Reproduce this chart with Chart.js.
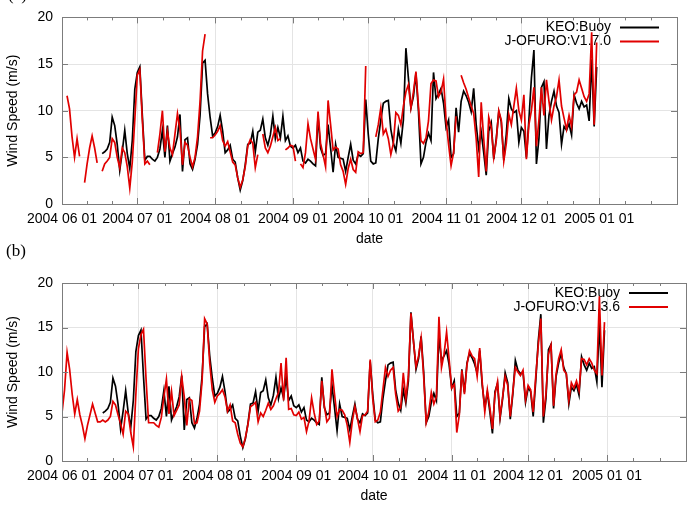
<!DOCTYPE html>
<html>
<head>
<meta charset="utf-8">
<script src="https://cdn.jsdelivr.net/npm/chart.js@4.4.1/dist/chart.umd.min.js"></script>
<style>
  html, body { margin: 0; padding: 0; background: #fff; }
  body { width: 693px; height: 507px; position: relative; overflow: hidden; }
  .panel { position: absolute; left: 0; width: 693px; }
  .tag { position: absolute; font-family: "Liberation Serif", "DejaVu Serif", serif; font-size: 17px; color: #000; }
</style>
</head>
<body>
<div class="panel" style="top:0;height:250px"><canvas id="chartA"></canvas></div>
<div class="panel" style="top:250px;height:257px"><canvas id="chartB"></canvas></div>
<div class="tag" style="left:8px;top:-15px">(a)</div>
<div class="tag" style="left:6px;top:241px">(b)</div>
<script>
// days counted from 2004-06-01
const monthStarts = [0, 30, 61, 92, 122, 153, 183, 214];
const monthLabels = ['2004 06 01', '2004 07 01', '2004 08 01', '2004 09 01',
                     '2004 10 01', '2004 11 01', '2004 12 01', '2005 01 01'];
const yTicks = [0, 5, 10, 15, 20];

// KEO buoy daily wind speed (m/s), day 0 .. 213
const buoy = [
  null, null, null, null, null, null, null, null, null, null,
  null, null, null, null, null, null, 5.4, 5.6, 5.9, 6.6,
  9.3, 8.4, 6.4, 3.6, 5.6, 7.9, 5.4, 3.8, 6.8, 12.3,
  14.1, 14.7, 9.5, 4.7, 5.1, 5.1, 4.8, 4.6, 5.0, 5.9,
  7.9, 5.0, 8.4, 4.6, 5.4, 6.1, 7.2, 9.6, 3.5, 6.9,
  7.1, 4.3, 3.7, 4.8, 6.4, 9.5, 15.1, 15.4, 11.8, 9.3,
  7.3, 7.6, 8.3, 9.5, 7.8, 5.5, 5.8, 6.3, 4.8, 4.5,
  2.8, 1.5, 2.5, 4.2, 6.4, 6.5, 7.8, 5.6, 7.7, 7.9,
  9.1, 7.1, 6.3, 7.4, 9.4, 7.0, 8.2, 7.1, 9.4, 6.8,
  7.3, 6.2, 6.0, 6.3, 5.5, 6.0, 4.6, 4.4, 4.8, 4.6,
  4.3, 4.1, 9.4, 6.0, 5.2, 5.4, 8.5, 6.0, 3.4, 6.4,
  5.0, 4.9, 4.8, 3.5, 5.0, 6.4, 4.7, 4.3, 5.3, 5.1,
  5.4, 11.2, 7.5, 4.6, 4.3, 4.4, 7.0, 9.0, 10.8, 11.0,
  11.1, 8.0, 6.5, 5.7, 8.0, 6.5, 9.0, 16.7, 13.5, 10.3,
  11.5, 14.0, 10.0, 4.3, 5.0, 6.6, 7.6, 6.8, 14.1, 11.3,
  11.8, 12.4, 10.8, 8.2, 9.0, 5.0, 5.4, 10.3, 7.7, 11.0,
  12.1, 11.6, 10.9, 9.9, 12.4, 8.5, 6.0, 7.7, 5.5, 3.1,
  7.8, 8.7, 4.8, 7.0, 9.9, 8.8, 4.7, 7.5, 11.3, 10.2,
  9.8, 10.0, 6.6, 8.2, 7.8, 5.0, 9.0, 13.5, 16.5, 4.3,
  7.0, 12.5, 13.1, 5.9, 9.5, 11.0, 12.1, 10.5, 9.8, 6.4,
  8.3, 7.9, 8.6, 7.4, 11.7, 10.8, 10.2, 11.0, 10.4, 10.6,
  8.9, 15.5, 8.3, 14.7
];

// J-OFURO V1.7.0, day 0 .. 213
const ofuro170 = [
  null, null, 11.6, 10.2, 7.2, 5.0, 7.0, 5.1, null, 2.3,
  4.3, 6.0, 7.3, 6.0, 4.4, null, 3.5, 4.3, 4.6, 5.0,
  7.0, 6.6, 5.0, 3.9, 6.0, 5.5, 4.0, 1.7, 4.5, 9.0,
  13.8, 14.4, 9.0, 4.3, 4.6, 4.2, null, null, 5.5, 7.5,
  10.0, 5.6, 7.8, 6.0, 5.3, 7.5, 9.7, 8.0, 4.2, 6.6,
  6.3, 5.0, 4.0, 5.0, 7.2, 11.0, 16.4, 18.2, null, 7.1,
  7.1, 7.4, 7.8, 8.4, 6.8, 6.2, 6.7, 5.6, 4.5, 4.2,
  2.8, 1.8, 2.6, 4.0, 6.2, 6.9, 6.5, 3.9, 5.3, null,
  7.5, 6.0, 5.5, 6.2, 7.2, 8.2, 6.8, 7.0, null, 5.8,
  6.0, 6.3, 6.2, 4.6, null, 4.3, 3.9, 5.5, 8.6, 7.0,
  5.9, 4.8, 9.9, 6.5, 5.3, 4.0, 11.1, 8.5, 5.8, 6.1,
  5.9, 4.2, 3.5, 2.1, 3.8, 4.8, 3.7, 3.4, 5.6, 5.4,
  5.5, 14.8, null, null, null, 7.2, 8.5, 10.3, 7.5, 8.0,
  7.0, 5.3, 6.5, 9.8, 9.5, 8.5, 10.5, 12.0, 12.8, 10.3,
  12.0, 14.2, 10.5, 6.8, 6.5, 7.1, 8.9, 12.9, 13.3, 13.2,
  11.5, 12.0, 13.4, 9.0, 6.4, 4.1, 5.5, 9.4, null, 13.8,
  13.0, 12.3, 11.4, 10.5, 9.7, 7.0, 2.9, 10.9, 7.0, 3.5,
  9.3, 8.2, 5.0, 6.8, 10.0, 9.0, 4.6, 6.5, 9.6, 8.5,
  10.5, 12.4, 10.0, 9.0, 11.7, 4.8, 8.5, 10.0, 12.5, 6.2,
  9.0, 12.5, 9.5, 13.3, 11.0, 9.0, 10.5, 11.5, 13.3, 10.5,
  9.2, 8.0, 9.5, 8.3, 11.7, 12.0, 13.3, 12.4, 11.5, 11.0,
  11.8, 18.4, 8.5, 17.3
];

// J-OFURO V1.3.6, day 0 .. 213
const ofuro136 = [
  5.4, 8.0, 12.2, 10.3, 7.5, 5.3, 6.9, 5.2, 4.0, 2.5,
  4.0, 5.2, 6.4, 5.4, 4.4, 4.4, 4.6, 4.4, 4.6, 5.0,
  6.7, 6.3, 5.2, 4.2, 3.0, 5.6, 5.3, 3.2, 1.6, 7.5,
  12.6, 14.2, 14.8, 9.2, 4.3, 4.3, 4.3, 4.0, 3.8, 4.9,
  7.2, 9.2, 5.3, 7.8, 5.1, 5.7, 6.3, 9.5, 7.2, 4.0,
  7.0, 6.8, 4.2, 4.3, 5.6, 9.0, 16.0, 15.4, 11.0, 8.0,
  6.6, 7.3, 7.6, 8.0, 7.2, 5.6, 6.3, 4.5, 4.3, 3.0,
  2.0, 1.6, 2.6, 4.1, 6.1, 6.3, 6.6, 4.4, 5.4, 5.0,
  5.7, 6.5, 5.8, 6.2, 7.0, 7.7, 11.0, 6.8, 11.6, 5.8,
  5.9, 5.2, 5.1, 5.5, 4.7, 4.9, 3.3, 4.5, 7.1, 5.4,
  4.1, 4.5, 9.0, 6.2, 4.4, 4.8, 10.3, 7.5, 5.0, 5.8,
  5.7, 5.2, 4.0, 2.1, 4.5, 6.1, 4.8, 3.3, 5.1, 5.2,
  5.6, 11.4, 7.0, 4.4, 4.6, 5.5, 8.0, 10.5, 9.5, 10.2,
  10.5, 7.5, 5.6, 6.0, 9.9, 7.0, 9.5, 16.6, 13.4, 10.6,
  11.8, 13.8, 9.5, 4.3, 5.5, 7.7, 6.4, 7.2, 16.2, 10.5,
  12.0, 14.5, 11.4, 8.2, 8.6, 3.2, 5.2, 10.2, 7.5, 10.8,
  12.4, 11.8, 11.5, 9.5, 12.7, 8.8, 5.5, 8.0, 6.0, 3.6,
  7.5, 8.9, 5.0, 7.2, 9.5, 8.5, 5.0, 7.8, 10.5, 10.0,
  9.6, 10.2, 6.9, 8.5, 8.0, 5.5, 9.5, 13.0, 16.0, 5.0,
  7.5, 12.0, 13.0, 6.2, 9.8, 11.5, 12.5, 10.2, 9.8, 6.8,
  8.8, 8.2, 9.0, 7.9, 11.5, 11.4, 10.8, 11.5, 11.0, 10.2,
  9.8, 18.5, 9.6, 15.6
];

const FONT = '"Liberation Sans", Arial, Helvetica, sans-serif';

function toPoints(arr) {
  return arr.map((v, i) => ({ x: i, y: v }));
}

// gnuplot-like frame: grey border, inward ticks, key inside top-right
const framePlugin = {
  id: 'frame',
  beforeDatasetsDraw(chart, args, opts) {
    const ctx = chart.ctx;
    const a = chart.chartArea;
    ctx.save();
    ctx.font = '14px ' + FONT;
    ctx.textAlign = 'right';
    ctx.textBaseline = 'middle';
    opts.keys.forEach((k, i) => {
      const y = a.top + 10 + i * 14;
      ctx.fillStyle = '#000';
      ctx.fillText(k.label, a.right - 66, y);
      ctx.strokeStyle = k.color;
      ctx.lineWidth = 2;
      ctx.beginPath();
      ctx.moveTo(a.right - 57, y);
      ctx.lineTo(a.right - 18, y);
      ctx.stroke();
    });
    ctx.restore();
  },
  afterDraw(chart) {
    const ctx = chart.ctx;
    const a = chart.chartArea;
    const xs = chart.scales.x;
    const ys = chart.scales.y;
    ctx.save();
    ctx.strokeStyle = '#7c7c7c';
    ctx.lineWidth = 1;
    ctx.beginPath();
    const bounds = monthStarts.concat([245]);
    for (let m = 0; m < bounds.length; m++) {
      const px = Math.round(xs.getPixelForValue(bounds[m])) + 0.5;
      ctx.moveTo(px, a.bottom); ctx.lineTo(px, a.bottom - 6);
      ctx.moveTo(px, a.top); ctx.lineTo(px, a.top + 6);
      if (m < bounds.length - 1) {
        const span = bounds[m + 1] - bounds[m];
        for (let k = 1; k < 3; k++) {
          const q = Math.round(xs.getPixelForValue(bounds[m] + span * k / 3)) + 0.5;
          ctx.moveTo(q, a.bottom); ctx.lineTo(q, a.bottom - 3);
          ctx.moveTo(q, a.top); ctx.lineTo(q, a.top + 3);
        }
      }
    }
    yTicks.forEach(v => {
      const py = Math.round(ys.getPixelForValue(v)) + 0.5;
      ctx.moveTo(a.left, py); ctx.lineTo(a.left + 6, py);
      ctx.moveTo(a.right, py); ctx.lineTo(a.right - 6, py);
    });
    ctx.stroke();
    ctx.strokeRect(Math.round(a.left) + 0.5, Math.round(a.top) + 0.5,
                   Math.round(a.right - a.left), Math.round(a.bottom - a.top));
    ctx.restore();
  }
};

function makeChart(id, redData, redLabel, pad) {
  const ctx = document.getElementById(id).getContext('2d');
  return new Chart(ctx, {
    type: 'line',
    data: {
      datasets: [
        {
          label: redLabel,
          data: toPoints(redData),
          borderColor: '#e10000',
          borderWidth: 1.7,
          pointRadius: 0,
          tension: 0,
          spanGaps: false
        },
        {
          label: 'KEO:Buoy',
          data: toPoints(buoy),
          borderColor: '#000000',
          borderWidth: 1.7,
          pointRadius: 0,
          tension: 0,
          spanGaps: false
        }
      ]
    },
    options: {
      responsive: true,
      maintainAspectRatio: false,
      animation: false,
      layout: { padding: pad },
      scales: {
        x: {
          type: 'linear',
          min: 0,
          max: 245,
          afterFit: s => { s.height = 46; },
          afterBuildTicks: s => { s.ticks = monthStarts.map(v => ({ value: v })); },
          ticks: {
            autoSkip: false,
            maxRotation: 0,
            padding: 7,
            color: '#000',
            font: { family: FONT, size: 14 },
            callback: v => {
              const i = monthStarts.indexOf(v);
              return i >= 0 ? monthLabels[i] : '';
            }
          },
          grid: { color: '#e4e4e4', lineWidth: 1, drawTicks: false },
          border: { display: false },
          title: {
            display: true,
            text: 'date',
            color: '#000',
            font: { family: FONT, size: 14 },
            padding: { top: 0, bottom: 2 }
          }
        },
        y: {
          min: 0,
          max: 20,
          afterFit: s => { s.width = 62; },
          afterBuildTicks: s => { s.ticks = yTicks.map(v => ({ value: v })); },
          ticks: {
            padding: 9,
            color: '#000',
            font: { family: FONT, size: 14 }
          },
          grid: { color: '#e4e4e4', lineWidth: 1, drawTicks: false },
          border: { display: false },
          title: {
            display: true,
            text: 'Wind Speed (m/s)',
            color: '#000',
            font: { family: FONT, size: 14 },
            padding: { top: 5, bottom: 0 }
          }
        }
      },
      plugins: {
        legend: { display: false },
        tooltip: { enabled: false },
        frame: {
          keys: [
            { label: 'KEO:Buoy', color: '#000000' },
            { label: redLabel, color: '#e10000' }
          ]
        }
      }
    },
    plugins: [framePlugin]
  });
}

makeChart('chartA', ofuro170, 'J-OFURO:V1.7.0', { top: 15, right: 16, left: 0, bottom: 0 });
makeChart('chartB', ofuro136, 'J-OFURO:V1.3.6', { top: 33, right: 7, left: 0, bottom: 0 });
</script>
</body>
</html>
